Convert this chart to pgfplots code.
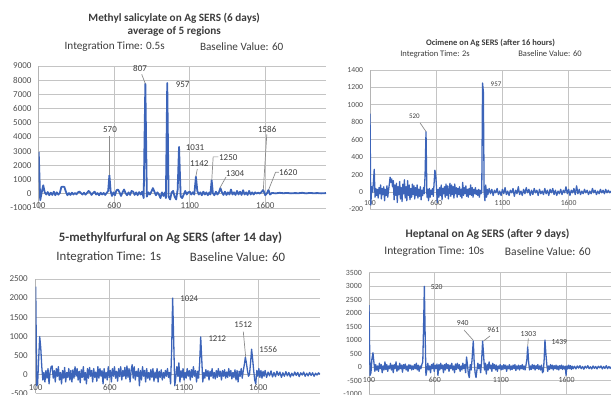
\documentclass[border=0pt]{standalone}
\usepackage{fontspec}
\setmainfont{Carlito}
\usepackage{pgfplots}
\pgfplotsset{compat=1.18}
\definecolor{gridc}{RGB}{196,196,196}
\definecolor{axc}{RGB}{180,180,180}
\definecolor{lineb}{RGB}{60,100,185}
\definecolor{txt}{RGB}{80,80,80}
\definecolor{ttl}{RGB}{60,60,60}
\definecolor{ldrc}{RGB}{140,140,140}
\newcommand\fs[1]{\fontsize{#1}{#1}\selectfont}
\tikzset{dl/.style={text=ttl, inner sep=0pt},
  ldr/.style={draw=ldrc, line width=0.7pt},
  ttlnode/.style={text=ttl, inner sep=0pt}}
\pgfplotsset{
  sers/.style={
    scale only axis, anchor=south west,
    axis x line=middle, axis y line=left,
    axis line style={-, draw=axc, line width=0.9pt},
    every inner x axis line/.append style={-},
    every outer x axis line/.append style={-},
    every inner y axis line/.append style={-},
    every outer y axis line/.append style={-},
    grid=major, major grid style={draw=gridc, line width=0.9pt},
    major tick length=0pt,
    xmin=100, xtick={100,600,1100,1600},
    tick label style={text=txt},
    /pgf/number format/1000 sep={},
    /pgf/number format/assume math mode=true,
    hide obscured x ticks=false, hide obscured y ticks=false,
  },
}
\begin{document}
\begin{tikzpicture}
% ---------------- Panel 1: Methyl salicylate ----------------
\begin{axis}[sers, at={(38.7pt,187pt)}, width=287.3pt, height=142pt,
  xmax=2002, ymin=-1000, ymax=9000, ytick distance=1000,
  tick label style={font=\fs{9}}, xticklabel style={yshift=-5pt}, yticklabel style={xshift=-3.7pt}]
\addplot[lineb, line width=1.8pt, line join=round] coordinates {
(100,2950)(110,-450)(120,100)(130,600)(140,100)(150,-50)(160,120)(170,-100)(180,80)(190,-80)
(200,150)(210,-100)(220,100)(230,-60)(240,50)(250,480)(260,500)(270,480)(280,150)(290,-100)
(300,50)(310,-80)(320,80)(330,-50)(340,60)(350,-40)(360,100)(370,160)(380,50)(390,-50)
(400,80)(410,-60)(420,60)(430,200)(440,100)(450,-80)(460,60)(470,150)(480,-50)(490,50)
(500,-100)(510,80)(520,-50)(530,60)(540,-80)(550,60)(560,200)(568,1300)(576,200)(585,-150)
(595,100)(605,-100)(615,250)(625,300)(635,100)(645,-150)(655,100)(665,300)(675,50)(685,-100)
(695,100)(705,-80)(715,200)(725,150)(735,-80)(745,100)(755,-100)(765,120)(775,-50)(785,150)
(795,-300)(806,7750)(816,-200)(826,100)(836,-50)(846,150)(856,400)(866,150)(876,-100)(886,100)
(896,-50)(906,-300)(916,100)(926,-150)(936,100)(942,-300)(951,7800)(960,-200)(970,-400)(980,100)
(990,200)(1000,-200)(1010,-400)(1020,300)(1029,3300)(1040,-200)(1050,-300)(1060,-50)(1070,200)(1080,-50)
(1090,100)(1100,150)(1110,-50)(1120,100)(1130,-50)(1141,1200)(1150,200)(1160,-50)(1170,100)(1180,-100)
(1190,150)(1200,-50)(1210,100)(1220,-100)(1230,100)(1237,-50)(1245,950)(1253,50)(1263,-100)(1273,150)
(1283,-50)(1293,100)(1303,400)(1313,100)(1323,-80)(1333,150)(1343,-80)(1353,100)(1363,-50)(1373,300)
(1383,-50)(1393,100)(1403,-80)(1413,200)(1423,-50)(1433,150)(1443,-80)(1453,250)(1463,-50)(1473,100)
(1483,-80)(1493,200)(1503,-50)(1513,100)(1523,-50)(1533,100)(1543,20)(1553,80)(1563,20)(1573,100)
(1586,270)(1600,-100)(1612,50)(1621,270)(1632,-50)(1645,60)(1670,30)(1695,70)(1720,40)(1745,60)
(1770,30)(1795,50)(1820,40)(1845,70)(1870,30)(1895,60)(1920,40)(1945,50)(1970,30)(2002,50)
};
\begin{scope}[font=\fs{9}]
\node[dl] at (axis cs:771,8838) {807};
\draw[ldr] (axis cs:782,8415) -- (axis cs:806,7750);
\node[dl] at (axis cs:1053,7711) {957};
\node[dl] at (axis cs:572,4493) {570};
\draw[ldr] (axis cs:570,4063) -- (axis cs:570,1330);
\node[dl] at (axis cs:1135,3246) {1031};
\node[dl] at (axis cs:1163,2148) {1142};
\draw[ldr] (axis cs:1150,1746) -- (axis cs:1141,1250);
\node[dl] at (axis cs:1355,2542) {1250};
\draw[ldr] (axis cs:1290,2600) -- (axis cs:1255,2600) -- (axis cs:1246,1000);
\node[dl] at (axis cs:1400,1444) {1304};
\draw[ldr] (axis cs:1340,1183) -- (axis cs:1300,420);
\node[dl] at (axis cs:1613,4563) {1586};
\draw[ldr] (axis cs:1610,4180) -- (axis cs:1587,280);
\node[dl] at (axis cs:1752,1514) {1620};
\draw[ldr] (axis cs:1690,1514) -- (axis cs:1668,1514) -- (axis cs:1622,280);
\end{scope}
\end{axis}
% ---------------- Panel 2: Ocimene ----------------
\begin{axis}[sers, at={(370pt,185.6pt)}, width=241pt, height=139.4pt,
  xmax=1920, ymin=-200, ymax=1400, ytick distance=200,
  tick label style={font=\fs{7.7}}, xticklabel style={yshift=-4.7pt}, yticklabel style={xshift=-3.4pt}]
\addplot[lineb, line width=1.3pt, line join=round] coordinates {
(100,900)(106,-150)(113,60)(120,0)(126,120)(132,260)(138,-60)(144,40)(150,-40)(156,30)
(162,-70)(168,50)(174,-20)(180,80)(186,-80)(192,40)(198,-30)(204,60)(210,-100)(216,30)
(222,-40)(228,70)(234,-60)(240,20)(246,90)(252,170)(258,110)(264,150)(270,60)(276,130)
(282,-90)(288,80)(294,-40)(300,100)(306,-120)(312,60)(318,-30)(324,120)(330,-80)(336,50)
(342,-110)(348,90)(354,-20)(360,140)(366,-70)(372,60)(378,-100)(384,130)(390,-40)(396,80)
(402,-90)(408,40)(414,-60)(420,90)(426,-30)(432,70)(438,-80)(444,50)(450,-40)(456,80)
(462,-70)(468,30)(474,-50)(480,60)(486,-90)(492,20)(498,-40)(504,50)(510,-20)(516,200)
(523,690)(530,-60)(536,30)(542,-100)(548,40)(554,-60)(560,20)(566,-30)(572,40)(578,-50)
(584,100)(590,250)(596,200)(602,60)(608,-120)(614,30)(620,-60)(626,50)(632,-40)(638,80)
(644,-90)(650,40)(656,-20)(662,60)(668,-60)(674,90)(680,-40)(686,70)(692,-80)(698,20)
(704,100)(710,-50)(716,80)(722,-30)(728,60)(734,-70)(740,90)(746,-20)(752,50)(758,-60)
(764,40)(770,-30)(776,60)(782,-50)(788,30)(794,-70)(800,110)(806,-40)(812,50)(818,-20)
(824,70)(830,-50)(836,30)(842,-60)(848,40)(854,-30)(860,80)(866,-40)(872,50)(878,-60)
(884,30)(890,-20)(896,50)(902,-30)(908,20)(914,-40)(920,30)(926,-60)(932,20)(938,-20)
(944,0)(950,1250)(956,1150)(962,0)(968,-100)(974,80)(980,-60)(986,30)(990,-30)(1000,40)
(1010,-20)(1020,30)(1030,-40)(1040,20)(1050,-10)(1060,40)(1070,-30)(1080,10)(1090,-40)(1100,30)
(1110,-20)(1120,50)(1130,-30)(1140,10)(1150,-40)(1160,20)(1170,-10)(1180,40)(1190,-50)(1200,20)
(1210,-20)(1220,60)(1230,-30)(1240,10)(1250,-40)(1260,30)(1270,-20)(1280,50)(1290,-10)(1300,30)
(1310,-40)(1320,20)(1330,-30)(1340,40)(1350,-10)(1360,20)(1370,-40)(1380,30)(1390,-20)(1400,10)
(1410,-30)(1420,40)(1430,-20)(1440,20)(1450,-40)(1460,30)(1470,-10)(1480,40)(1490,-30)(1500,20)
(1510,-40)(1520,10)(1530,-20)(1540,30)(1550,-30)(1560,20)(1570,-10)(1580,60)(1590,-20)(1600,30)
(1610,-40)(1620,20)(1630,-10)(1640,40)(1650,-30)(1660,70)(1670,-20)(1680,30)(1690,-30)(1700,10)
(1710,-20)(1720,30)(1730,-10)(1740,20)(1750,-30)(1760,10)(1770,-20)(1780,40)(1790,-10)(1800,20)
(1810,-30)(1820,10)(1830,-20)(1840,30)(1850,-10)(1860,20)(1870,-20)(1880,30)(1890,-10)(1900,20)
(1910,-10)(1920,10)
};
\begin{scope}[font=\fs{7}]
\node[dl] at (axis cs:435,865) {520};
\draw[ldr] (axis cs:478,793) -- (axis cs:523,693);
\node[dl] at (axis cs:1052,1241) {957};
\end{scope}
\end{axis}
% ---------------- Panel 3: 5-methylfurfural ----------------
\begin{axis}[sers, at={(35.7pt,1.6pt)}, width=284.3pt, height=114.4pt,
  xmax=2016, ymin=-500, ymax=2500, ytick distance=500,
  tick label style={font=\fs{9}}, xticklabel style={yshift=-7pt}, yticklabel style={xshift=-4.4pt}]
\addplot[lineb, line width=1.3pt, line join=round] coordinates {
(100,2300)(107,-300)(113,-250)(120,400)(127,990)(134,700)(141,200)(148,-150)(155,50)(162,-200)
(169,100)(176,-100)(183,150)(190,-250)(197,50)(204,200)(211,220)(218,-100)(225,100)(232,-200)
(239,150)(246,-50)(253,200)(260,-150)(267,50)(274,-250)(281,100)(288,-100)(295,180)(302,-200)
(309,50)(316,-80)(323,150)(330,-150)(337,100)(344,-200)(351,120)(358,-100)(365,200)(372,-50)
(379,150)(386,-150)(393,80)(400,-220)(407,120)(414,-80)(421,200)(428,-150)(435,50)(442,-250)
(449,150)(456,-100)(463,180)(470,-50)(477,100)(484,-200)(491,150)(498,-80)(505,60)(512,-180)
(519,200)(526,-100)(533,150)(540,-50)(547,100)(554,-250)(561,150)(568,-100)(575,50)(582,-150)
(589,200)(596,-80)(603,100)(610,-200)(617,150)(624,-50)(631,200)(638,-100)(645,80)(652,-180)
(659,150)(666,-60)(673,200)(680,-150)(687,100)(694,-50)(701,180)(708,-120)(715,220)(722,-80)
(729,150)(736,-200)(743,100)(750,250)(757,-100)(764,200)(771,-150)(778,80)(785,-50)(792,150)
(799,-300)(806,100)(813,-150)(820,200)(827,-50)(834,100)(841,-200)(848,150)(855,-100)(862,50)
(869,-150)(876,120)(883,-80)(890,150)(897,-180)(904,60)(911,-100)(918,150)(925,-200)(932,80)
(939,-80)(946,120)(953,-150)(960,50)(967,-100)(974,100)(981,-50)(988,150)(995,-80)(1002,50)
(1009,-250)(1016,600)(1023,2000)(1030,900)(1037,-300)(1044,-100)(1051,200)(1058,-50)(1065,300)(1072,-200)
(1079,100)(1086,-80)(1093,150)(1100,-150)(1107,50)(1114,-100)(1121,150)(1128,-50)(1135,100)(1142,-150)
(1149,120)(1156,-80)(1163,200)(1170,-50)(1177,100)(1184,-200)(1191,80)(1198,-100)(1205,300)(1212,980)
(1219,400)(1226,-200)(1233,50)(1240,-100)(1247,120)(1254,-50)(1261,100)(1268,-150)(1275,80)(1282,-50)
(1289,150)(1296,-100)(1303,50)(1310,-120)(1317,100)(1324,-80)(1331,150)(1338,-50)(1345,80)(1352,-150)
(1359,100)(1366,-50)(1373,120)(1380,-100)(1387,60)(1394,-80)(1401,150)(1408,-50)(1415,100)(1422,-120)
(1429,50)(1436,-80)(1443,120)(1450,-150)(1457,100)(1464,-200)(1471,80)(1478,-50)(1485,150)(1492,-100)
(1499,100)(1506,250)(1513,450)(1520,300)(1527,100)(1534,-50)(1541,0)(1548,300)(1555,660)(1562,400)
(1569,100)(1576,-150)(1583,-250)(1590,100)(1597,-50)(1604,150)(1611,-80)(1618,100)(1625,-100)(1632,80)
(1639,-50)(1646,100)(1656,-80)(1666,60)(1676,-40)(1686,90)(1696,-70)(1706,50)(1716,-60)(1726,80)
(1736,-30)(1746,60)(1756,-80)(1766,40)(1776,-50)(1786,70)(1796,-40)(1806,50)(1816,-70)(1826,30)
(1836,-40)(1846,60)(1856,-30)(1866,50)(1876,-60)(1886,40)(1896,-20)(1906,60)(1916,-50)(1926,30)
(1936,-40)(1946,50)(1956,-30)(1966,40)(1976,-50)(1986,30)(1996,-20)(2006,40)(2016,0)
};
\begin{scope}[font=\fs{8.7}]
\node[dl] at (axis cs:1135,1993) {1024};
\node[dl] at (axis cs:1324,944) {1212};
\node[dl] at (axis cs:1499,1293) {1512};
\draw[ldr] (axis cs:1499,1122) -- (axis cs:1515,454);
\node[dl] at (axis cs:1667,637) {1556};
\end{scope}
\end{axis}
% ---------------- Panel 4: Heptanal ----------------
\begin{axis}[sers, at={(369pt,0.7pt)}, width=242pt, height=121.5pt,
  xmax=1936, ymin=-1000, ymax=3500, ytick distance=500,
  tick label style={font=\fs{7.9}}, xticklabel style={yshift=-6.6pt}, yticklabel style={xshift=-3.7pt}]
\addplot[lineb, line width=1.3pt, line join=round] coordinates {
(100,2300)(108,-300)(115,-200)(122,300)(130,540)(137,200)(144,-150)(151,100)(158,-100)(165,50)
(172,-150)(179,150)(186,-50)(193,100)(200,-200)(207,50)(214,-100)(221,200)(228,-80)(235,100)
(242,-150)(249,50)(256,-50)(263,150)(270,-100)(277,80)(284,-200)(291,100)(298,-50)(305,200)
(312,-150)(319,50)(326,-100)(333,150)(340,-50)(347,80)(354,-180)(361,100)(368,-50)(375,120)
(382,-100)(389,50)(396,-150)(403,100)(410,-50)(417,80)(424,-100)(431,50)(438,-80)(445,100)
(452,-50)(459,150)(466,-100)(473,80)(480,-150)(487,50)(494,-50)(501,100)(508,200)(514,1500)
(520,3000)(526,1200)(532,-300)(539,-100)(546,150)(553,-100)(560,50)(567,-200)(574,100)(581,-50)
(588,150)(595,-150)(602,80)(609,-50)(616,120)(623,-300)(630,100)(637,-100)(644,150)(651,-50)
(658,80)(665,-200)(672,100)(679,-100)(686,150)(693,-50)(700,100)(707,-150)(714,80)(721,-50)
(728,150)(735,-100)(742,50)(749,-200)(756,120)(763,-80)(770,150)(777,-50)(784,100)(791,-150)
(798,50)(805,-100)(812,150)(819,-50)(826,100)(833,-200)(840,380)(847,100)(854,-250)(861,-380)
(868,100)(875,-100)(882,300)(891,970)(898,200)(905,-200)(912,-380)(919,-100)(926,150)(933,-50)
(940,100)(947,-200)(954,200)(962,970)(969,500)(976,-100)(983,150)(990,-250)(997,100)(1004,-100)
(1011,200)(1018,-50)(1025,80)(1032,-150)(1039,150)(1046,-50)(1053,100)(1060,-100)(1067,80)(1074,-150)
(1081,50)(1088,-50)(1095,100)(1102,-100)(1109,60)(1116,-80)(1123,100)(1130,-50)(1137,80)(1144,-150)
(1151,50)(1158,-50)(1165,100)(1172,-100)(1179,50)(1186,-80)(1193,80)(1200,-50)(1207,100)(1214,-120)
(1221,50)(1228,-60)(1235,80)(1242,-100)(1249,60)(1256,-50)(1263,100)(1270,-80)(1277,50)(1284,-100)
(1291,80)(1298,300)(1304,760)(1311,200)(1318,-100)(1325,50)(1332,-80)(1339,100)(1346,-50)(1353,80)
(1360,-100)(1367,60)(1374,-50)(1381,100)(1388,-80)(1395,50)(1402,-100)(1409,80)(1416,-200)(1423,-150)
(1429,300)(1435,1010)(1442,500)(1449,100)(1456,-150)(1463,50)(1470,-80)(1477,100)(1484,-50)(1491,80)
(1498,-100)(1505,60)(1512,-50)(1519,80)(1526,-80)(1533,50)(1540,-100)(1547,60)(1554,-50)(1561,80)
(1568,-80)(1575,50)(1582,-60)(1589,40)(1595,-300)(1601,50)(1608,-60)(1615,80)(1622,-50)(1629,60)
(1636,-80)(1643,40)(1650,-50)(1660,40)(1670,-60)(1680,50)(1690,-30)(1700,60)(1710,-50)(1720,30)
(1730,-70)(1740,40)(1750,-30)(1760,60)(1770,-50)(1780,20)(1790,-60)(1800,50)(1810,-40)(1820,30)
(1830,-60)(1840,40)(1850,-20)(1860,50)(1870,-60)(1880,30)(1890,-40)(1900,60)(1910,-50)(1920,30)
(1930,-40)(1936,20)
};
\begin{scope}[font=\fs{7.7}]
\node[dl] at (axis cs:614,2985) {520};
\node[dl] at (axis cs:811,1630) {940};
\draw[ldr] (axis cs:821,1382) -- (axis cs:889,1011);
\node[dl] at (axis cs:1043,1382) {961};
\draw[ldr] (axis cs:1018,1159) -- (axis cs:970,980);
\node[dl] at (axis cs:1309,1233) {1303};
\draw[ldr] (axis cs:1309,1067) -- (axis cs:1304,789);
\node[dl] at (axis cs:1544,948) {1439};
\end{scope}
\end{axis}
% ---------------- Titles ----------------
\node[ttlnode, font=\bfseries\fs{11.2}] at (174.2pt,377pt) {Methyl salicylate on Ag SERS (6 days)};
\node[ttlnode, font=\bfseries\fs{11.2}] at (174.3pt,363pt) {average of 5 regions};
\node[ttlnode, font=\fs{11.2}] at (114.7pt,348pt) {Integration Time: 0.5s};
\node[ttlnode, font=\fs{11.2}] at (241.7pt,348pt) {Baseline Value: 60};
\node[ttlnode, font=\bfseries\fs{8.5}] at (490.5pt,351.7pt) {Ocimene on Ag SERS (after 16 hours)};
\node[ttlnode, font=\fs{8.5}] at (435pt,341pt) {Integration Time: 2s};
\node[ttlnode, font=\fs{8.5}] at (550pt,341pt) {Baseline Value: 60};
\node[ttlnode, font=\bfseries\fs{12.8}] at (170.5pt,156.7pt) {5-methylfurfural on Ag SERS (after 14 day)};
\node[ttlnode, font=\fs{12.8}] at (108.8pt,138.3pt) {Integration Time: 1s};
\node[ttlnode, font=\fs{12.8}] at (237.5pt,138.3pt) {Baseline Value: 60};
\node[ttlnode, font=\bfseries\fs{11.5}] at (487.5pt,160.7pt) {Heptanal on Ag SERS (after 9 days)};
\node[ttlnode, font=\fs{11.5}] at (434.3pt,143.3pt) {Integration Time: 10s};
\node[ttlnode, font=\fs{11.5}] at (547.8pt,143.3pt) {Baseline Value: 60};
\pgfresetboundingbox
\path[use as bounding box] (0,0) rectangle (611pt,395pt);
\end{tikzpicture}
\end{document}
